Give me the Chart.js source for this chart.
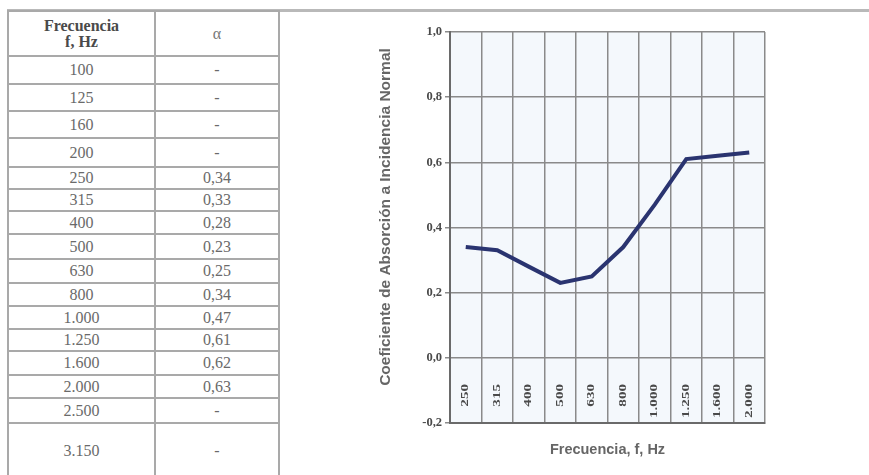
<!DOCTYPE html>
<html>
<head>
<meta charset="utf-8">
<script src="https://cdn.jsdelivr.net/npm/chart.js@4.4.0/dist/chart.umd.min.js"></script>
<style>
  body { margin: 0; background: #fff; width: 869px; height: 475px; overflow: hidden; position: relative; }
  #topline { position: absolute; left: 7px; top: 9px; width: 862px; height: 3px; background: #b9b9b9; }
  #tabla { position: absolute; left: 7px; top: 10px; border-collapse: collapse; font-family: "Liberation Serif", serif; font-size: 16px; color: #6a6a6a; }
  #tabla td { border: 2px solid #a9a9a9; text-align: center; padding: 0; line-height: 16px; }
  #tabla td.f { width: 145px; }
  #tabla td.a { width: 122px; }
  #tabla tr.h td { color: #4a4a4a; font-weight: bold; }
  #grafico { position: absolute; left: 280px; top: 0; }
</style>
</head>
<body>
<div id="topline"></div>
<table id="tabla"></table>
<canvas id="grafico" width="589" height="475"></canvas>
<script>
// tabla
var frecTabla = ['100', '125', '160', '200', '250', '315', '400', '500', '630', '800', '1.000', '1.250', '1.600', '2.000', '2.500', '3.150'];
var alfaTabla = ['-', '-', '-', '-', '0,34', '0,33', '0,28', '0,23', '0,25', '0,34', '0,47', '0,61', '0,62', '0,63', '-', '-'];
var altoFilas = [28, 27, 27, 29, 22, 22, 23, 25, 24, 23, 23, 22, 24, 23, 25, 56];

// grafico
var frecuencias = ['250', '315', '400', '500', '630', '800', '1.000', '1.250', '1.600', '2.000'];
var coeficientes = [0.34, 0.33, 0.28, 0.23, 0.25, 0.34, 0.47, 0.61, 0.62, 0.63];

var tabla = document.getElementById('tabla');
var html = '<tr class="h" style="height:45px"><td class="f">Frecuencia<br>f, Hz</td><td class="a" style="font-weight:normal;color:#777">α</td></tr>';
for (var i = 0; i < frecTabla.length; i++) {
	html += '<tr style="height:' + altoFilas[i] + 'px"><td class="f">' + frecTabla[i] + '</td><td class="a">' + alfaTabla[i] + '</td></tr>';
}
tabla.innerHTML = html;

var extras = {
	id: 'extras',
	beforeDraw: function(chart) {
		var a = chart.chartArea, ctx = chart.ctx;
		ctx.save();
		ctx.fillStyle = '#f4f8fc';
		ctx.fillRect(a.left, a.top, a.right - a.left, a.bottom - a.top);
		ctx.restore();
	},
	afterDraw: function(chart) {
		var ctx = chart.ctx, x = chart.scales.x, y = chart.scales.y;
		ctx.save();
		ctx.fillStyle = '#4a4a4a';
		ctx.font = 'bold 9.5px "Liberation Serif"';
		ctx.textAlign = 'right';
		ctx.textBaseline = 'middle';
		var y0 = y.getPixelForValue(0) + 26;
		frecuencias.forEach(function(lbl, i) {
			ctx.save();
			ctx.translate(x.getPixelForValue(i), y0);
			ctx.rotate(-Math.PI / 2);
			ctx.scale(1.6, 1);
			ctx.fillText(lbl, 0, 0);
			ctx.restore();
		});
		// titulo eje y
		ctx.fillStyle = '#666';
		ctx.font = 'bold 15.5px "Liberation Sans"';
		ctx.textAlign = 'center';
		ctx.translate(106, 217);
		ctx.rotate(-Math.PI / 2);
		ctx.fillText('Coeficiente de Absorción a Incidencia Normal', 0, 0);
		ctx.restore();
	}
};

new Chart(document.getElementById('grafico'), {
	type: 'line',
	data: {
		labels: frecuencias,
		datasets: [{
			data: coeficientes,
			borderColor: '#2a3470',
			borderWidth: 4,
			pointRadius: 0,
			tension: 0,
			fill: false
		}]
	},
	options: {
		responsive: false,
		animation: false,
		devicePixelRatio: 1,
		layout: { padding: { left: 120, top: 32, right: 104, bottom: 0 } },
		plugins: { legend: { display: false }, tooltip: { enabled: false } },
		scales: {
			x: {
				offset: true,
				grid: { offset: true, color: '#8a8a8a', lineWidth: 1.5, drawTicks: false },
				border: { color: '#6a6a6a', width: 2 },
				ticks: { display: false },
				title: { display: true, text: 'Frecuencia, f, Hz', color: '#666', font: { family: 'Liberation Sans', size: 14.5, weight: 'bold' }, padding: { top: 0, bottom: 16 } },
				afterFit: function(s) { s.height = 52; }
			},
			y: {
				min: -0.2,
				max: 1.0,
				grid: { color: '#8a8a8a', lineWidth: 1.5, tickLength: 5 },
				border: { color: '#6a6a6a', width: 2 },
				ticks: {
					stepSize: 0.2,
					color: '#4a4a4a',
					padding: 3,
					font: { family: 'Liberation Serif', size: 12.5, weight: 'bold' },
					callback: function(v) {
						if (Math.abs(v) < 1e-9) v = 0;
						return v.toFixed(1).replace('.', ',');
					}
				},
				afterFit: function(s) { s.width = 50; }
			}
		}
	},
	plugins: [extras]
});
</script>
</body>
</html>
